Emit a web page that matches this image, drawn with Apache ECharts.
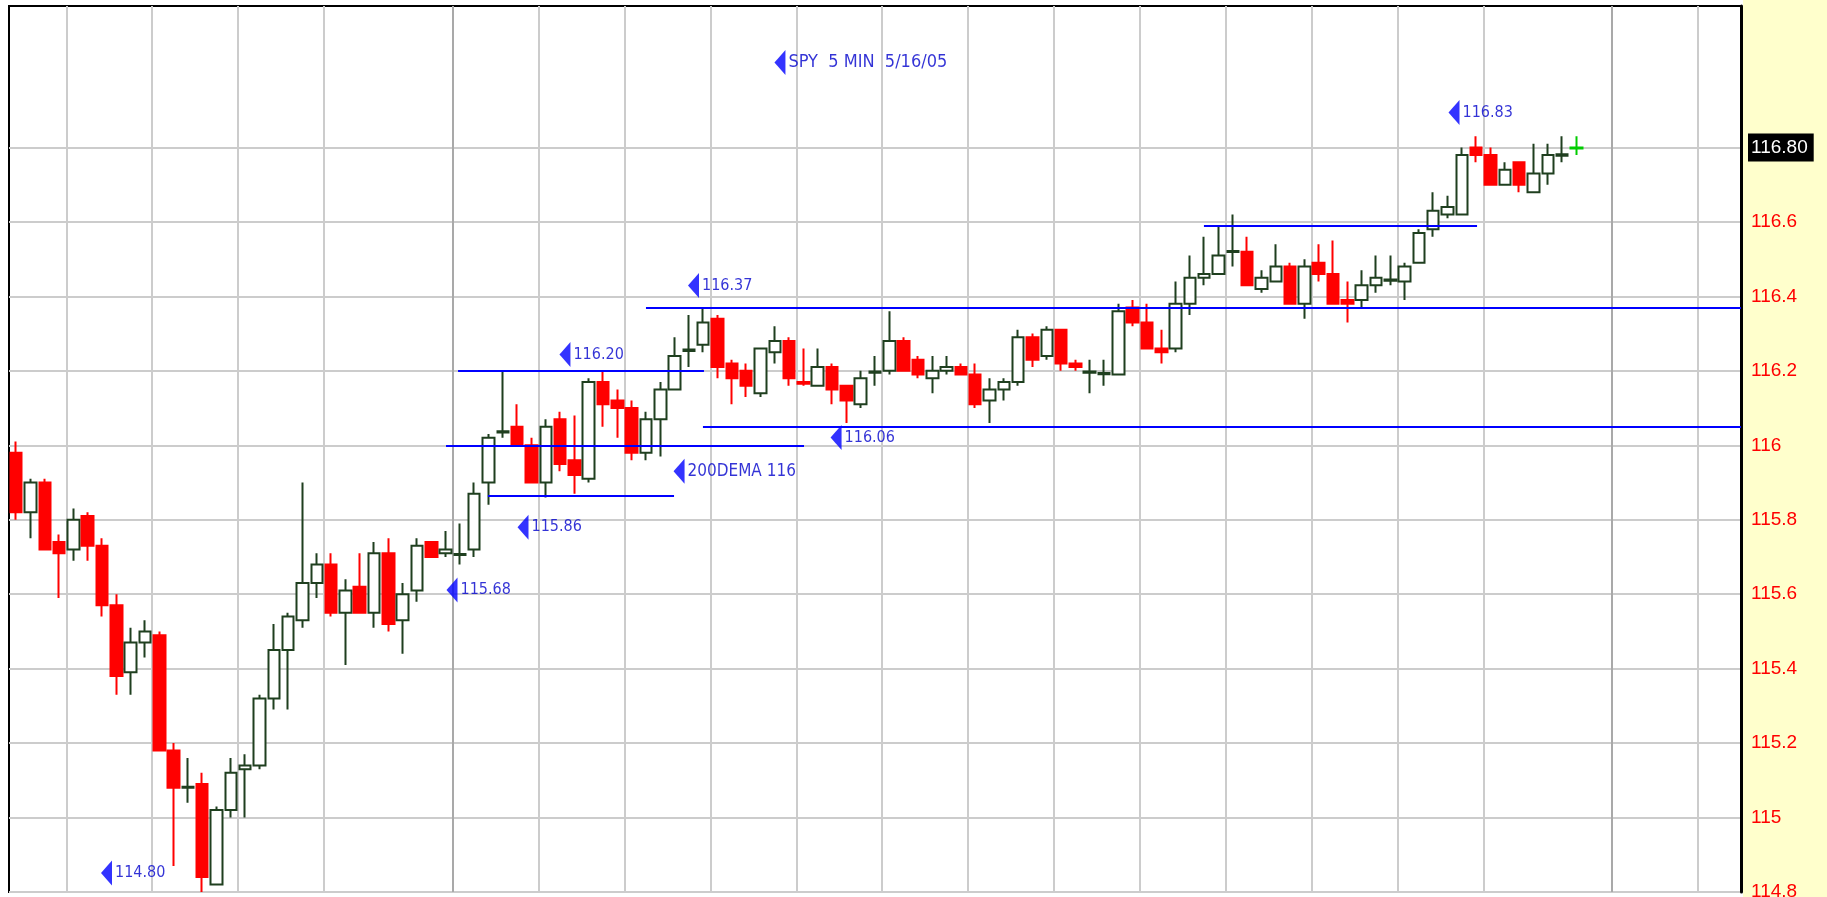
<!DOCTYPE html>
<html>
<head>
<meta charset="utf-8">
<title>SPY 5 MIN 5/16/05</title>
<script src="https://cdn.jsdelivr.net/npm/echarts@6/dist/echarts.min.js"></script>
<style>
  html, body { margin: 0; padding: 0; background: #fff; }
  #chart { width: 1827px; height: 897px; }
</style>
</head>
<body>
<div id="chart"></div>
<script>
// SPY 5 min bars
// each bar is [open, close, low, high]
var bars = [
  [115.98, 115.82, 115.80, 116.01], [115.82, 115.90, 115.75, 115.91], [115.90, 115.72, 115.72, 115.91],
  [115.74, 115.71, 115.59, 115.76], [115.72, 115.80, 115.69, 115.83], [115.81, 115.73, 115.69, 115.82],
  [115.73, 115.57, 115.54, 115.75], [115.57, 115.38, 115.33, 115.60], [115.39, 115.47, 115.33, 115.51],
  [115.47, 115.50, 115.43, 115.53], [115.49, 115.18, 115.18, 115.50], [115.18, 115.08, 114.87, 115.20],
  [115.080, 115.083, 115.04, 115.16], [115.09, 114.84, 114.80, 115.12], [114.82, 115.02, 114.82, 115.03],
  [115.02, 115.12, 115.00, 115.16], [115.13, 115.14, 115.00, 115.17], [115.14, 115.32, 115.13, 115.33],
  [115.32, 115.45, 115.29, 115.52], [115.45, 115.54, 115.29, 115.55], [115.53, 115.63, 115.51, 115.90],
  [115.63, 115.68, 115.59, 115.71], [115.68, 115.55, 115.54, 115.71], [115.55, 115.61, 115.41, 115.64],
  [115.62, 115.55, 115.55, 115.71], [115.55, 115.71, 115.51, 115.74], [115.71, 115.52, 115.50, 115.75],
  [115.53, 115.60, 115.44, 115.63], [115.61, 115.73, 115.58, 115.75], [115.74, 115.70, 115.70, 115.74],
  [115.71, 115.72, 115.70, 115.77], [115.705, 115.708, 115.68, 115.79], [115.72, 115.87, 115.70, 115.90],
  [115.90, 116.02, 115.84, 116.03], [116.034, 116.038, 116.02, 116.20], [116.05, 116.00, 116.00, 116.11],
  [116.00, 115.90, 115.90, 116.02], [115.90, 116.05, 115.86, 116.07], [116.07, 115.95, 115.93, 116.09],
  [115.96, 115.92, 115.87, 116.08], [115.91, 116.17, 115.90, 116.18], [116.17, 116.11, 116.05, 116.20],
  [116.12, 116.10, 116.02, 116.15], [116.10, 115.98, 115.96, 116.12], [115.98, 116.07, 115.96, 116.09],
  [116.07, 116.15, 115.97, 116.17], [116.15, 116.24, 116.15, 116.29], [116.253, 116.257, 116.21, 116.35],
  [116.27, 116.33, 116.25, 116.37], [116.34, 116.21, 116.18, 116.35], [116.22, 116.18, 116.11, 116.23],
  [116.20, 116.16, 116.13, 116.22], [116.14, 116.26, 116.13, 116.26], [116.25, 116.28, 116.22, 116.32],
  [116.28, 116.18, 116.16, 116.29], [116.170, 116.165, 116.16, 116.26], [116.16, 116.21, 116.16, 116.26],
  [116.21, 116.15, 116.11, 116.22], [116.16, 116.12, 116.06, 116.16], [116.11, 116.18, 116.10, 116.20],
  [116.195, 116.198, 116.16, 116.24], [116.20, 116.28, 116.19, 116.36], [116.28, 116.20, 116.20, 116.29],
  [116.23, 116.19, 116.18, 116.24], [116.18, 116.20, 116.14, 116.24], [116.20, 116.21, 116.19, 116.24],
  [116.21, 116.19, 116.19, 116.22], [116.19, 116.11, 116.10, 116.22], [116.12, 116.15, 116.06, 116.18],
  [116.15, 116.17, 116.12, 116.18], [116.17, 116.29, 116.16, 116.31], [116.29, 116.23, 116.21, 116.30],
  [116.24, 116.31, 116.23, 116.32], [116.31, 116.22, 116.20, 116.31], [116.22, 116.21, 116.20, 116.23],
  [116.195, 116.198, 116.14, 116.23], [116.191, 116.194, 116.16, 116.23], [116.19, 116.36, 116.19, 116.38],
  [116.37, 116.33, 116.32, 116.39], [116.33, 116.26, 116.26, 116.38], [116.26, 116.25, 116.22, 116.31],
  [116.26, 116.38, 116.25, 116.44], [116.38, 116.45, 116.35, 116.51], [116.45, 116.46, 116.43, 116.56],
  [116.46, 116.51, 116.46, 116.59], [116.519, 116.522, 116.48, 116.62], [116.52, 116.43, 116.43, 116.56],
  [116.42, 116.45, 116.41, 116.47], [116.44, 116.48, 116.44, 116.54], [116.48, 116.38, 116.38, 116.49],
  [116.38, 116.48, 116.34, 116.50], [116.49, 116.46, 116.44, 116.54], [116.46, 116.38, 116.38, 116.55],
  [116.39, 116.38, 116.33, 116.44], [116.39, 116.43, 116.37, 116.47], [116.43, 116.45, 116.41, 116.51],
  [116.442, 116.445, 116.43, 116.51], [116.44, 116.48, 116.39, 116.49], [116.49, 116.57, 116.49, 116.58],
  [116.58, 116.63, 116.56, 116.68], [116.62, 116.64, 116.61, 116.67], [116.62, 116.78, 116.62, 116.80],
  [116.80, 116.78, 116.76, 116.83], [116.78, 116.70, 116.70, 116.80], [116.70, 116.74, 116.70, 116.76],
  [116.76, 116.70, 116.68, 116.76], [116.68, 116.73, 116.68, 116.81], [116.73, 116.78, 116.70, 116.81],
  [116.778, 116.782, 116.76, 116.83], [116.797, 116.80, 116.78, 116.83]
];

// time slots on the x axis, bars fill only the first 110
var slotCount = 121;
var slots = [];
for (var i = 0; i < slotCount; i++) slots.push(String(i));

// half hour lines sit in front of these slots, the two darker ones are session breaks
var gridSlots = [4, 10, 16, 22, 31, 37, 43, 49, 55, 61, 67, 73, 79, 85, 91, 97, 103, 112, 118];
var sessionSlots = [31, 112];

// price scale
var priceMin = 114.8;
var priceTop = 117.18;
var priceGridMax = 116.8;
var priceStep = 0.2;
var lastPrice = 116.80;

// drawn levels: [price, from slot, to slot]
var levels = [
  [116.20, 30.87, 48.05],
  [116.00, 30.03, 55.04],
  [115.865, 32.96, 45.96],
  [116.37, 44.0, 120.5],
  [116.05, 47.98, 120.5],
  [116.59, 82.98, 102.06]
];

// notes with the blue arrow: [text, slot, price, font size]
var notes = [
  ['SPY  5 MIN  5/16/05', 53.36, 117.028, 18],
  ['114.80', 6.31, 114.851, 16],
  ['115.68', 30.45, 115.611, 16],
  ['115.86', 35.41, 115.780, 16],
  ['116.20', 38.34, 116.244, 16],
  ['200DEMA 116', 46.31, 115.930, 17],
  ['116.37', 47.32, 116.429, 16],
  ['116.06', 57.28, 116.021, 16],
  ['116.83', 100.45, 116.894, 16]
];

var noteFont = "'Liberation Sans Narrow', 'DejaVu Sans Condensed', 'Liberation Sans', sans-serif";
var gridLineColors = gridSlots.map(function (s) {
  return sessionSlots.indexOf(s) >= 0 ? '#a9a9a9' : '#cccccc';
}).concat(['#cccccc']);

var chart = echarts.init(document.getElementById('chart'));

var candleData = bars.map(function (b, i) {
  if (i === bars.length - 1) {
    // last bar is drawn in bright green
    return { value: b, itemStyle: { color: '#00cc00', color0: '#00cc00', borderColor: '#00cc00', borderColor0: '#00cc00' } };
  }
  return b;
});

var option = {
  animation: false,
  backgroundColor: '#ffffff',
  graphic: [{
    type: 'rect', right: 0, top: 0, z: -1, silent: true,
    shape: { width: 84, height: 897 },
    style: { fill: '#ffffcc' }
  }],
  grid: [
    { left: 9, right: 86, top: 6, bottom: 5, show: true, borderColor: '#000', borderWidth: 2,
      backgroundColor: 'transparent', outerBoundsMode: 'none' },
    { left: 9, right: 86, top: 147.5, bottom: 5, show: false, outerBoundsMode: 'none' }
  ],
  xAxis: [
    { type: 'category', gridIndex: 0, data: slots, boundaryGap: true,
      axisLine: { show: false }, axisTick: { show: false }, axisLabel: { show: false },
      splitLine: { show: true, interval: function (idx) { return gridSlots.indexOf(idx) >= 0; },
        lineStyle: { color: gridLineColors, width: 2 } } },
    { type: 'value', gridIndex: 0, min: -0.5, max: slotCount - 0.5, show: false },
    { type: 'value', gridIndex: 1, min: 0, max: 1, show: false }
  ],
  yAxis: [
    { type: 'value', gridIndex: 0, position: 'right', min: priceMin, max: priceTop,
      axisLine: { show: true, onZero: false, lineStyle: { color: '#000', width: 3 } },
      axisTick: { show: false }, axisLabel: { show: false }, splitLine: { show: false } },
    { type: 'value', gridIndex: 1, position: 'right', min: priceMin, max: priceGridMax, interval: priceStep,
      axisLine: { show: false }, axisTick: { show: false },
      splitLine: { show: true, lineStyle: { color: '#cccccc', width: 2 } },
      axisLabel: {
        show: true, margin: 7, align: 'left', showMinLabel: true, showMaxLabel: true,
        formatter: function (v) {
          if (Math.abs(v - lastPrice) < 1e-6) return '{cur|' + lastPrice.toFixed(2) + '}';
          return '{v|' + (+v.toFixed(1)) + '}';
        },
        rich: {
          v: { color: '#ff0000', fontSize: 19, fontFamily: 'Liberation Sans', padding: [0, 0, 0, 3] },
          cur: { color: '#ffffff', backgroundColor: '#000000', fontSize: 19, fontFamily: 'Liberation Sans',
            padding: [5, 6, 4, 3] }
        }
      } }
  ],
  series: [
    {
      type: 'candlestick', name: 'SPY', xAxisIndex: 0, yAxisIndex: 0,
      data: candleData, barWidth: 12, silent: true, z: 3,
      itemStyle: { color: '#ffffff', color0: '#ff0000', borderColor: '#1f3f1f', borderColor0: '#ff0000', borderWidth: 2 }
    },
    {
      type: 'scatter', name: 'notes', xAxisIndex: 1, yAxisIndex: 0, silent: true, clip: false, z: 4,
      symbol: 'path://M10,0L10,24L0,12Z', symbolSize: [11, 25],
      itemStyle: { color: '#0000ff' },
      label: { show: true, position: 'right', distance: 3, formatter: '{b}',
        color: '#0000cc', fontFamily: noteFont },
      data: notes.map(function (n) {
        return { name: n[0], value: [n[1], n[2]], label: { fontSize: n[3] } };
      }),
      markLine: {
        silent: true, symbol: 'none', animation: false,
        label: { show: false },
        lineStyle: { color: '#0000ff', width: 2, type: 'solid' },
        data: levels.map(function (l) { return [{ coord: [l[1], l[0]] }, { coord: [l[2], l[0]] }]; })
      }
    }
  ]
};

chart.setOption(option);
</script>
</body>
</html>
